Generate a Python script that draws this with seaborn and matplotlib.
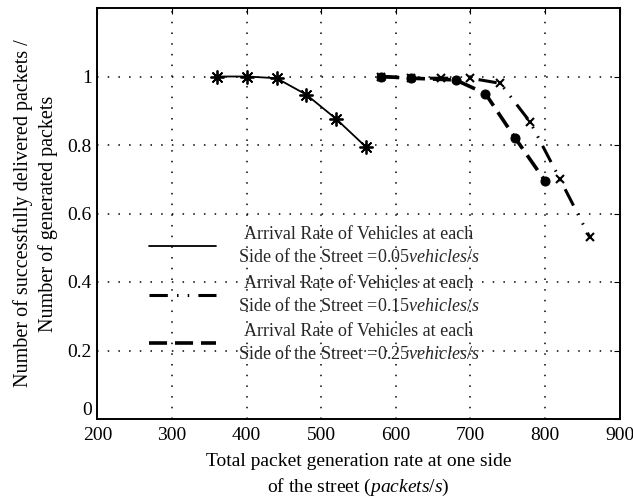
import matplotlib
matplotlib.use("Agg")
import matplotlib.pyplot as plt
from matplotlib.lines import Line2D
import seaborn as sns
import pandas as pd

# Delivery ratio vs. total packet generation rate, for three vehicle arrival rates
rate_005 = [360, 400, 440, 480, 520, 560]
ratio_005 = [1.0, 1.0, 0.995, 0.947, 0.876, 0.794]

rate_015 = [580, 620, 660, 700, 740, 780, 820, 860]
ratio_015 = [1.0, 0.995, 0.995, 0.995, 0.98, 0.867, 0.70, 0.53]

rate_025 = [580, 620, 680, 720, 760, 800]
ratio_025 = [1.0, 0.995, 0.99, 0.95, 0.82, 0.695]

labels = [
    "Arrival Rate of Vehicles at each\nSide of the Street =0.05$\\mathit{vehicles/s}$",
    "Arrival Rate of Vehicles at each\nSide of the Street =0.15$\\mathit{vehicles/s}$",
    "Arrival Rate of Vehicles at each\nSide of the Street =0.25$\\mathit{vehicles/s}$",
]
x_ticks = [200, 300, 400, 500, 600, 700, 800, 900]
y_ticks = [0, 0.2, 0.4, 0.6, 0.8, 1.0]
y_tick_labels = ["0", "0.2", "0.4", "0.6", "0.8", "1"]

sns.set_theme(style="white")
plt.rcParams["font.family"] = ["Liberation Serif", "DejaVu Serif"]
plt.rcParams["mathtext.fontset"] = "custom"
plt.rcParams["mathtext.rm"] = "Liberation Serif"
plt.rcParams["mathtext.it"] = "Liberation Serif:italic"

fig = plt.figure(figsize=(6.33, 5.0), dpi=100)
ax = fig.add_axes([0.154, 0.162, 0.825, 0.822])

frames = [
    pd.DataFrame({"rate": rate_005, "ratio": ratio_005}),
    pd.DataFrame({"rate": rate_015, "ratio": ratio_015}),
    pd.DataFrame({"rate": rate_025, "ratio": ratio_025}),
]
line_styles = [
    dict(linestyle="-", linewidth=1.3),
    dict(linestyle=(0, (6, 3, 0.5, 3, 0.5, 3)), linewidth=2.2),
    dict(linestyle=(0, (5, 2.2)), linewidth=2.6),
]
marker_styles = [
    dict(marker=(8, 2, 0), markersize=10, markeredgewidth=1.3),
    dict(marker="x", markersize=6, markeredgewidth=1.5),
    dict(marker="o", markersize=6.5),
]

for df, ls, ms in zip(frames, line_styles, marker_styles):
    sns.lineplot(data=df, x="rate", y="ratio", ax=ax, color="black",
                 markeredgecolor="black", markerfacecolor="black",
                 **ls, **ms)

ax.set_xlim(200, 900)
ax.set_ylim(0, 1.2)
ax.set_xticks(x_ticks)
ax.set_yticks(y_ticks)
ax.set_yticklabels(y_tick_labels)
ax.tick_params(direction="in", top=True, right=True, length=4, width=0.8,
               labelsize=14, colors="black")
ax.tick_params(axis="x", pad=6)
ax.tick_params(axis="y", pad=4)
ax.get_yticklabels()[0].set_verticalalignment("bottom")
ax.grid(True, color="black", linestyle=(0, (1, 6)), linewidth=1.1)
for s in ax.spines.values():
    s.set_color("black")
    s.set_linewidth(1.4)

ax.set_xlabel("Total packet generation rate at one side\nof the street ($\\mathit{packets/s}$)",
              fontsize=14, color="black", labelpad=6, linespacing=1.45)
ax.set_ylabel("Number of successfully delivered packets /\nNumber of generated packets",
              fontsize=14.5, color="black", labelpad=7, linespacing=1.3)

# Legend keys show only the line style of each series
handles = [Line2D([], [], color="black", **ls) for ls in line_styles]
leg = ax.legend(handles, labels, loc="upper left", bbox_to_anchor=(0.085, 0.487),
                frameon=False, fontsize=13, handlelength=3.7, handletextpad=1.2,
                labelspacing=0.45, borderaxespad=0)
for t in leg.get_texts():
    t.set_multialignment("center")
    t.set_linespacing(1.38)

fig.savefig("out.png", dpi=100)
